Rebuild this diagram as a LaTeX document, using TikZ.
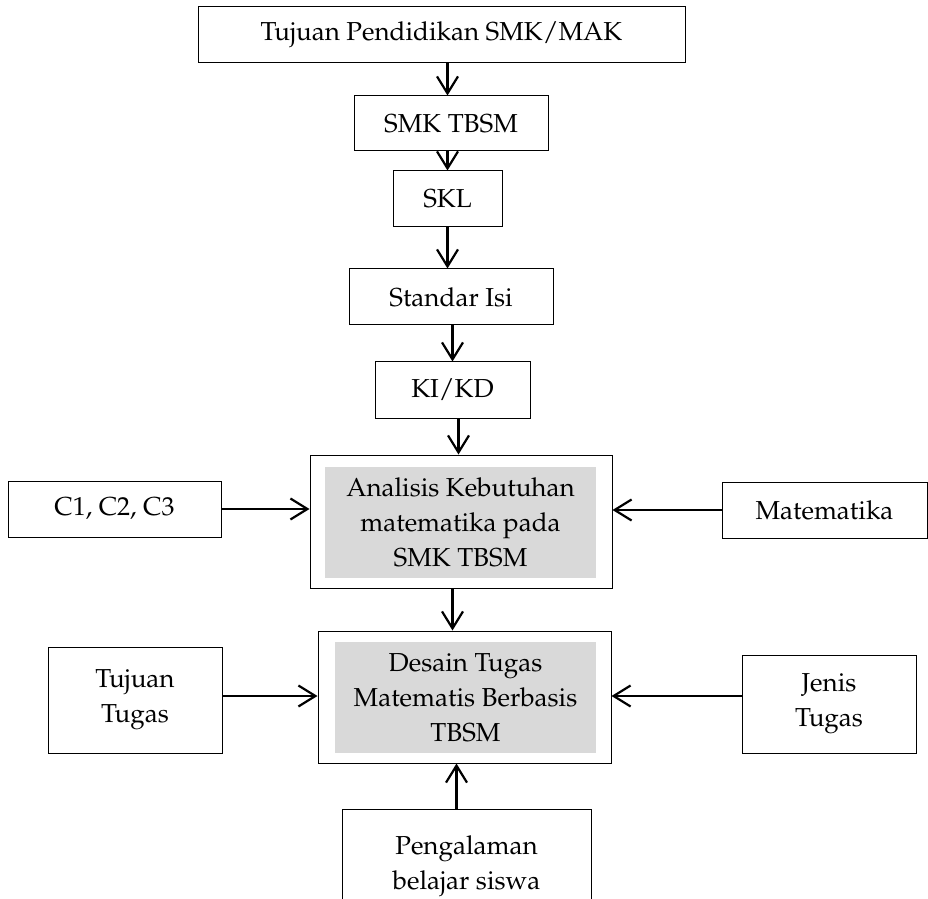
\documentclass[tikz,border=0pt]{standalone}
\usepackage[T1]{fontenc}
\usepackage{mathpazo}
\usepackage{tikz}
\usetikzlibrary{%
  arrows.meta,%
  calc%
}
\tikzset{>={Straight Barb[length=8.5pt,width=10.5pt]}}
\tikzset{kotak/.style={draw,line width=0.5pt,inner sep=0pt,align=center,
    font=\fontsize{13}{17.5}\selectfont},
  abu/.style={fill=black!15,inner sep=0pt,align=center,
    font=\fontsize{13}{17.5}\selectfont},
  panah/.style={->,line width=1.1pt}}

\begin{document}
\begin{tikzpicture}[x=0.5pt,y=-0.5pt]
        \useasboundingbox (0,0) rectangle (928,899);
        \clip (0,0) rectangle (928,899);
        \node[kotak,minimum width=243.5pt,minimum height=28pt] (tujuan) at (441.5,35) {Tujuan Pendidikan SMK/MAK};
        \node[kotak,minimum width=97pt,minimum height=27.5pt] (smk) at (451,123.5) {SMK TBSM};
        \node[kotak,minimum width=54.5pt,minimum height=28pt] (skl) at (447.5,199) {SKL};
        \node[kotak,minimum width=102pt,minimum height=28pt] (isi) at (451,297) {Standar Isi};
        \node[kotak,minimum width=77.5pt,minimum height=28pt] (kikd) at (452.5,390) {KI/KD};
        \node[kotak,minimum width=151pt,minimum height=66.5pt] (ana) at (461,521.5) {};
        \node[abu,minimum width=135.5pt,minimum height=55.5pt] (anateks) at (460.5,522.5)
        {Analisis Kebutuhan\\matematika pada\\SMK TBSM};
        \node[kotak,minimum width=106.5pt,minimum height=28pt] (cti) at (114.5,509) {C1, C2, C3};
        \node[kotak,minimum width=102.5pt,minimum height=28pt] (mat) at (824.5,510) {Matematika};
        \node[kotak,minimum width=146.5pt,minimum height=66pt] (desain) at (464.5,697) {};
        \node[abu,minimum width=130.5pt,minimum height=55.5pt] (desainteks) at (465.5,697.5)
        {Desain Tugas\\Matematis Berbasis\\TBSM};
        \node[kotak,minimum width=87pt,minimum height=53pt] (tujtugas) at (135,700) {Tujuan\\Tugas};
        \node[kotak,minimum width=87pt,minimum height=49pt] (jenis) at (829,704) {Jenis\\Tugas};
        \node[kotak,minimum width=124.5pt,minimum height=57pt] (peng) at (466.5,866) {Pengalaman\\belajar siswa};
        \coordinate (kk) at ([xshift=3pt]kikd.south);
        \coordinate (tt) at ([yshift=2pt]tujtugas.east);
        \coordinate (pp) at ([xshift=-5pt]peng.north);
        \draw[panah] (tujuan.south -| skl) -- (smk.north -| skl);
        \draw[panah] (smk.south -| skl) -- (skl.north);
        \draw[panah] (skl.south) -- (isi.north -| skl);
        \draw[panah] (isi.south -| kikd) -- (kikd.north);
        \draw[panah] (kk) -- (ana.north -| kk);
        \draw[panah] (ana.south -| kikd) -- (desain.north -| kikd);
        \draw[panah] (cti.east) -- (ana.west |- cti.east);
        \draw[panah] (mat.west) -- (ana.east |- mat.west);
        \draw[panah] (tt) -- (desain.west |- tt);
        \draw[panah] (jenis.west |- tt) -- (desain.east |- tt);
        \draw[panah] (pp) -- (desain.south -| pp);
      \end{tikzpicture}
\end{document}
